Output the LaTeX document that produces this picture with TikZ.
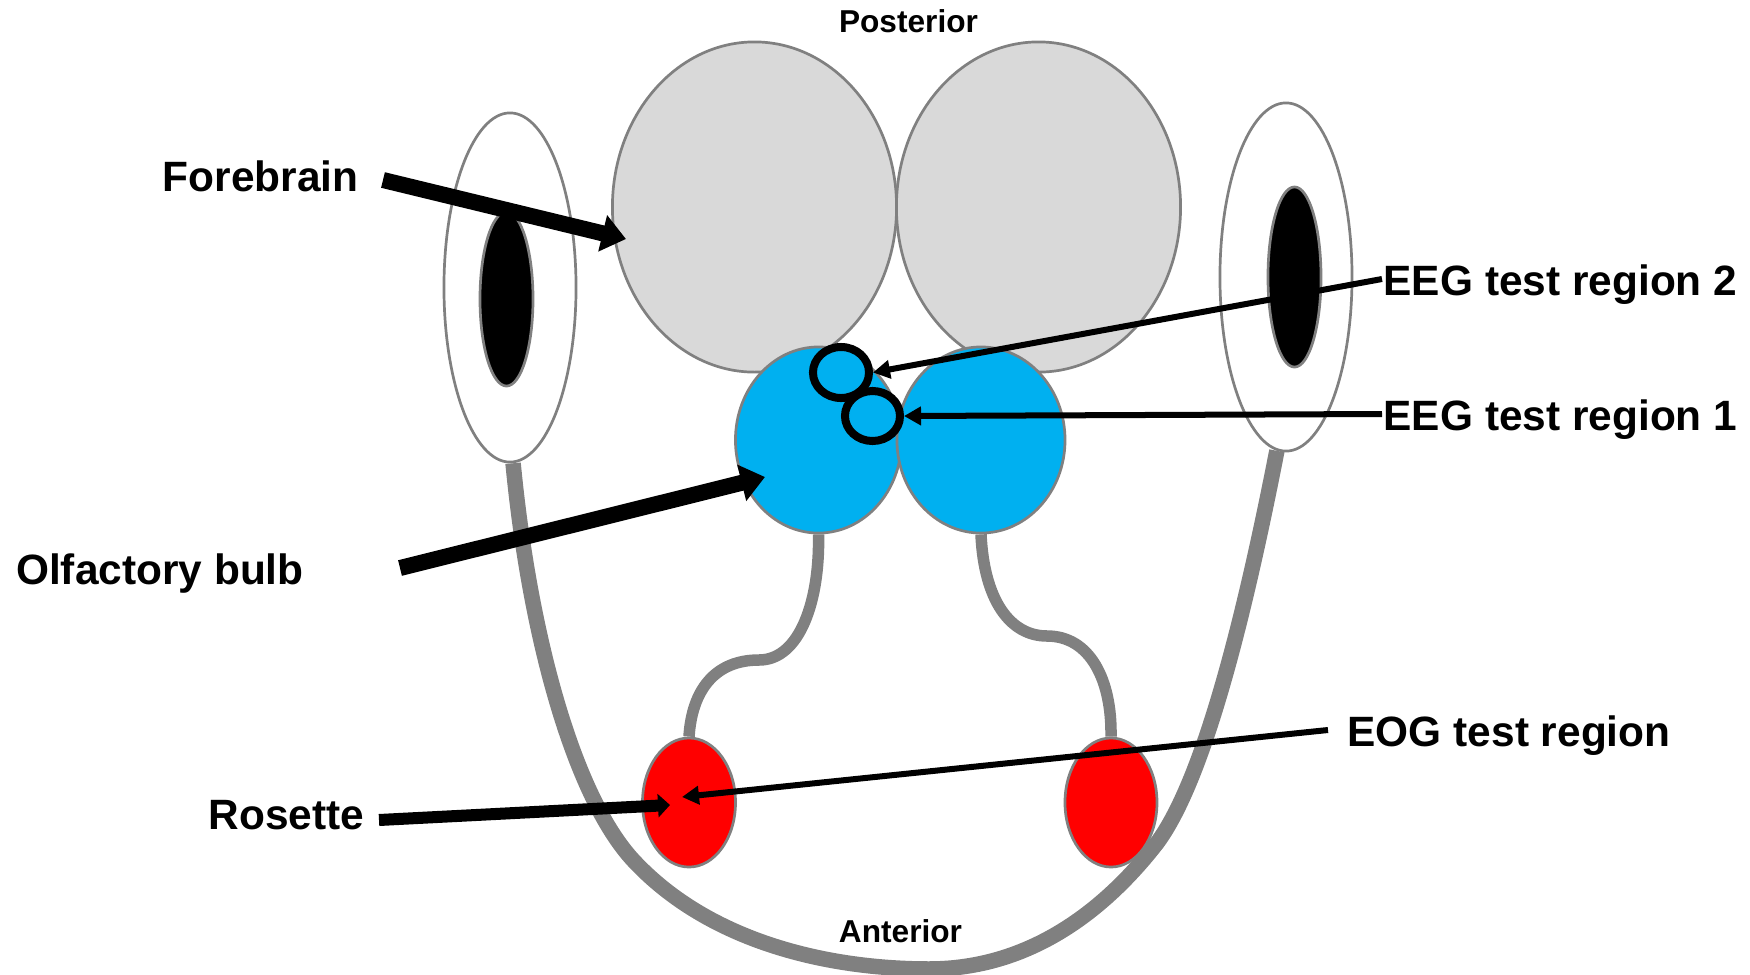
\documentclass[tikz,border=0pt]{standalone}
\usepackage{fontspec}
\setmainfont{Liberation Sans}
\usetikzlibrary{arrows.meta,shapes.geometric}
\definecolor{outline}{HTML}{808080}
\definecolor{brain}{HTML}{D9D9D9}
\definecolor{bulb}{HTML}{00B0F0}

\begin{document}
\begin{tikzpicture}[x=0.01cm, y=-0.01cm,
  organ/.style={ellipse, draw=outline, line width=0.027cm, inner sep=0pt},
  testring/.style={ellipse, draw=black, fill=bulb, line width=0.08cm, inner sep=0pt},
  nerve/.style={draw=outline, line width=0.115cm},
  jaw/.style={draw=outline, line width=0.155cm},
  biglabel/.style={font=\fontsize{12.06pt}{12pt}\bfseries, inner sep=0pt, anchor=west, text height=0.72em, text depth=0pt},
  smalllabel/.style={font=\fontsize{9pt}{9pt}\bfseries, inner sep=0pt, text height=0.72em, text depth=0pt},
  heavyarrow/.style={line width=0.16cm, -{Triangle[length=0.24cm,width=0.36cm]}},
  midarrow/.style={line width=0.12cm, -{Triangle[length=0.12cm,width=0.23cm]}},
  thinarrow/.style={line width=0.06cm, -{Triangle[length=0.17cm,width=0.18cm]}}]
  \useasboundingbox (0,0) rectangle (1750,975);

  % eyes
  \node[organ, fill=white, minimum width=1.32cm, minimum height=3.49cm] (eyeL) at (510,287.5) {};
  \node[organ, fill=white, minimum width=1.32cm, minimum height=3.48cm] (eyeR) at (1286,277) {};
  \node[organ, fill=black, minimum width=0.53cm, minimum height=1.74cm] (pupilL) at (506.5,299) {};
  \node[organ, fill=black, minimum width=0.53cm, minimum height=1.80cm] (pupilR) at (1294.5,277) {};

  % forebrain, bulbs, rosettes
  \node[organ, fill=brain, minimum width=2.84cm, minimum height=3.30cm] (brainL) at (754.5,207) {};
  \node[organ, fill=brain, minimum width=2.84cm, minimum height=3.30cm] (brainR) at (1038.5,207) {};
  \node[organ, fill=bulb, minimum width=1.66cm, minimum height=1.86cm] (bulbL) at (818.5,440) {};
  \node[organ, fill=bulb, minimum width=1.68cm, minimum height=1.86cm] (bulbR) at (981,440) {};
  \node[organ, fill=red, minimum width=0.93cm, minimum height=1.29cm] (rosetteL) at (689,802.5) {};
  \node[organ, fill=red, minimum width=0.92cm, minimum height=1.29cm] (rosetteR) at (1111,802.5) {};

  % test regions
  \node[testring, minimum width=0.56cm, minimum height=0.51cm] (regionTwo) at (841,372.5) {};
  \node[testring, minimum width=0.55cm, minimum height=0.50cm] (regionOne) at (872.5,416) {};

  % nerves and outline of the head
  \draw[nerve] (bulbL.south) .. controls (820,600) and (800,660) .. (759,660)
    .. controls (715,660) and (692,690) .. (rosetteL.north);
  \draw[nerve] (bulbR.south) .. controls (984,600) and (1010,636) .. (1047,636)
    .. controls (1090,636) and (1112,680) .. (rosetteR.north);
  \draw[jaw] (eyeL.271) .. controls (530,640) and (575,797) .. (633,860)
    .. controls (710,943) and (830,969) .. (929,969)
    .. controls (1030,969) and (1105,910) .. (1157,843)
    .. controls (1200,785) and (1240,640) .. (eyeR.267);

  % labels
  \node[smalllabel] (posterior) at (908.5,20) {Posterior};
  \node[smalllabel] (anterior) at (900.5,930) {Anterior};
  \node[biglabel] (forebrain) at (162,179) {Forebrain};
  \node[biglabel] (olfactory) at (15.5,572) {Olfactory bulb};
  \node[biglabel] (rosette) at (208,817) {Rosette};
  \node[biglabel] (eegTwo) at (1383,283) {EEG test region 2};
  \node[biglabel] (eegOne) at (1383,418) {EEG test region 1};
  \node[biglabel] (eog) at (1347,734) {EOG test region};

  % free arrow ends
  \coordinate (foreStart) at (383,180);
  \coordinate (foreTip) at (626,239);
  \coordinate (olfStart) at (400,568);
  \coordinate (olfTip) at (765,477);
  \coordinate (rosStart) at (379,820);
  \coordinate (rosTip) at (670,805);
  \coordinate (eogStart) at (1328,730);
  \coordinate (eogTip) at (682,797);
  \coordinate (twoStart) at (1382,279);
  \coordinate (oneStart) at (1382,414);

  \draw[heavyarrow] (foreStart) -- (foreTip);
  \draw[heavyarrow] (olfStart) -- (olfTip);
  \draw[midarrow] (rosStart) -- (rosTip);
  \draw[thinarrow] (eogStart) -- (eogTip);
  \draw[thinarrow] (twoStart) -- (regionTwo.east);
  \draw[thinarrow] (oneStart) -- (regionOne.east);
\end{tikzpicture}
\end{document}
